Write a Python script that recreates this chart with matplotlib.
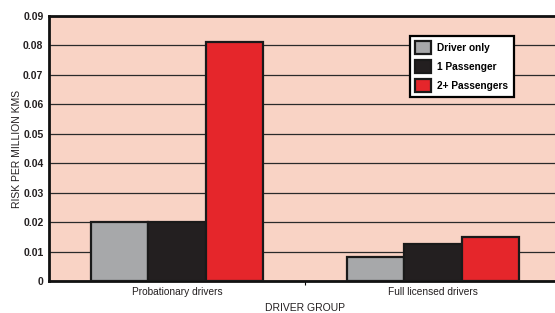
import numpy as np
import matplotlib.pyplot as plt

plt.rcParams['font.family'] = ['Liberation Sans', 'DejaVu Sans']

groups = ["Probationary drivers", "Full licensed drivers"]
series = ["Driver only", "1 Passenger", "2+ Passengers"]
driver_only = [0.0201, 0.0083]
one_passenger = [0.0201, 0.0126]
two_plus = [0.0812, 0.0151]
colors = ["#a7a8aa", "#231f20", "#e5262b"]

fig = plt.figure(figsize=(5.55, 3.13), dpi=100)
W, H = 555, 313
ax = fig.add_axes([49 / W, 32 / H, 512 / W, 265 / H])
ax.set_facecolor("#f9d3c5")

x = np.arange(len(groups))
w = 0.2227
for i, (vals, name) in enumerate(zip([driver_only, one_passenger, two_plus], series)):
    ax.bar(x + (i - 1) * w, vals, width=w, color=colors[i], edgecolor="#1a1a1a",
           linewidth=1.6, label=name, zorder=3)

ax.set_xlim(-0.5, 1.5)
ax.set_ylim(0, 0.09)
ax.set_yticks(np.arange(0, 0.091, 0.01))
ax.set_yticklabels(["0"] + [f"{v:.2f}" for v in np.arange(0.01, 0.091, 0.01)],
                   fontsize=7.5, fontweight="bold", color="#231f20")
ax.yaxis.grid(True, color="#2a2a2a", linewidth=0.9, zorder=0)
ax.set_axisbelow(True)
ax.tick_params(axis="y", length=0, pad=4)

ax.set_xticks(x)
ax.set_xticklabels(groups, fontsize=7.3, color="#231f20")
ax.set_xticks([0.5], minor=True)
ax.tick_params(axis="x", which="major", length=0, pad=4)
ax.tick_params(axis="x", which="minor", length=3, width=0.8, direction="out")

for s in ["left", "bottom", "top"]:
    ax.spines[s].set_linewidth(2)
    ax.spines[s].set_color("#111111")
ax.spines["right"].set_visible(False)

ax.set_ylabel("RISK PER MILLION KMS", fontsize=7.5, color="#231f20", va="center")
ax.yaxis.set_label_coords((17 - 49) / 512, 0.5)
ax.set_xlabel("DRIVER GROUP", fontsize=7.5, color="#231f20", va="center")
ax.xaxis.set_label_coords((305 - 49) / 512, -0.102)

leg = ax.legend(loc="upper left", bbox_to_anchor=((405 - 49) / 512, (281 - 31) / 265),
                fontsize=7.3, frameon=True, fancybox=False, handlelength=1.6,
                handleheight=1.6, borderpad=0.5, labelspacing=0.6, handletextpad=0.6)
leg.get_frame().set_edgecolor("black")
leg.get_frame().set_linewidth(1.6)
leg.get_frame().set_facecolor("white")
leg.get_frame().set_alpha(1)
for t in leg.get_texts():
    t.set_fontweight("bold")

fig.savefig("out.png", dpi=100)
